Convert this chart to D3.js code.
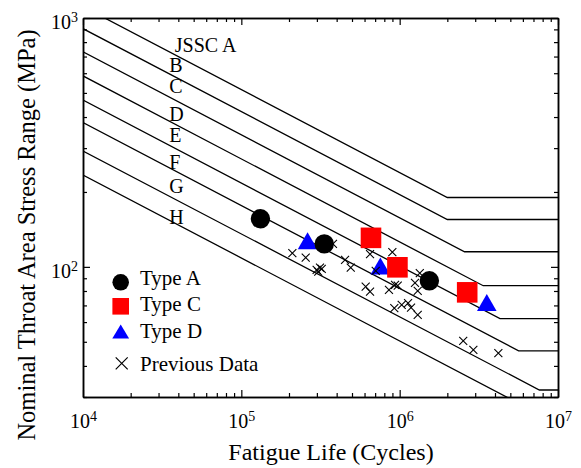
<!DOCTYPE html>
<html>
<head>
<meta charset="utf-8">
<title>Fatigue Life vs Nominal Throat Area Stress Range</title>
<script src="https://d3js.org/d3.v7.min.js"></script>
<style>
  body { margin: 0; background: #ffffff; }
  svg { font-family: "Liberation Serif", "Times New Roman", serif; }
</style>
</head>
<body>
<script>
// JSSC fatigue design curves: start at N = 1e4, knee, then flat cut-off
var classNames = ["JSSC A", "B", "C", "D", "E", "F", "G", "H"];
var startStress = [1111, 906, 731, 585, 468, 380, 292, 234];
var kneeLife = [2.0e6, 2.0e6, 2.57e6, 3.37e6, 4.30e6, 5.64e6, 7.63e6, 1.05e7];
var cutoffStress = [190, 155, 115, 84, 62, 46, 32, 23];

// test results
var typeALife = [1.32e5, 3.34e5, 1.54e6];
var typeAStress = [156, 123.7, 87.9];
var typeCLife = [6.59e5, 9.68e5, 2.67e6];
var typeCStress = [130.8, 99.6, 79.0];
var typeDLife = [2.62e5, 7.55e5, 3.55e6];
var typeDStress = [127.2, 100.7, 71.9];

// previous data
var prevLife = [2.10e5, 2.55e5, 2.99e5, 3.14e5, 3.06e5, 3.22e5, 3.79e5, 4.52e5, 4.91e5,
  6.50e5, 8.99e5, 7.06e5, 6.10e5, 6.50e5, 8.56e5, 9.35e5, 9.72e5, 1.25e6, 1.30e6, 1.34e6,
  9.25e5, 1.03e6, 1.13e6, 1.18e6, 1.30e6, 2.52e6, 2.92e6, 4.20e6];
var prevStress = [113.5, 109, 97.3, 99.4, 95.7, 98.2, 123.7, 106.7, 99.4,
  112.5, 114.6, 96.3, 83.3, 79.6, 80.8, 84.7, 84.1, 86.2, 80.1, 94.3,
  68.3, 70.4, 71.5, 68.6, 64.1, 50.4, 46.4, 45.0];

var xTicks = [1e4, 1e5, 1e6, 1e7];
var yTicks = [1e2, 1e3];
var legendNames = ["Type A", "Type C", "Type D", "Previous Data"];

var w = 581, h = 468;
var pLeft = 83, pRight = 558, pTop = 18, pBottom = 397;

var x = d3.scaleLog().domain([1e4, 1e7]).range([pLeft, pRight]);
var y = d3.scaleLog().domain([30, 1000]).range([pBottom, pTop]);

var svg = d3.select("body").append("svg")
  .attr("width", w)
  .attr("height", h);

svg.append("clipPath").attr("id", "plot")
  .append("rect")
  .attr("x", pLeft).attr("y", pTop)
  .attr("width", pRight - pLeft).attr("height", pBottom - pTop);

// minor tick positions (2..9 per decade)
function minors(lo, hi) {
  var out = [];
  for (var e = lo; e < hi; e++) {
    for (var k = 2; k <= 9; k++) out.push(k * Math.pow(10, e));
  }
  return out;
}
var xMinor = minors(4, 7);
var yMinor = minors(1, 3).filter(function(v) { return v >= 30; });

// design curves
var lineGen = d3.line()
  .x(function(d) { return x(d[0]); })
  .y(function(d) { return y(d[1]); });

var curves = svg.append("g").attr("clip-path", "url(#plot)");
classNames.forEach(function(name, i) {
  var pts = [[1e4, startStress[i]], [kneeLife[i], cutoffStress[i]], [1e7, cutoffStress[i]]];
  curves.append("path")
    .attr("d", lineGen(pts))
    .attr("fill", "none")
    .attr("stroke", "#000")
    .attr("stroke-width", 1.3);
});

// curve labels
var labelLife = [3.8e4, 3.5e4, 3.5e4, 3.5e4, 3.5e4, 3.5e4, 3.5e4, 3.5e4];
var labelStress = [730, 605, 498, 386, 318, 248, 198, 148];
svg.append("g").selectAll("text")
  .data(classNames)
  .enter()
  .append("text")
  .attr("x", function(d, i) { return x(labelLife[i]); })
  .attr("y", function(d, i) { return y(labelStress[i]); })
  .attr("font-size", "20px")
  .text(function(d) { return d; });

// axes
function supLabels(sel) {
  sel.selectAll(".tick text").each(function(d) {
    var t = d3.select(this);
    t.text(null);
    t.append("tspan").text("10");
    t.append("tspan")
      .attr("dy", "-7")
      .attr("font-size", "14px")
      .text(Math.round(Math.log10(d)));
  });
}

function styleAxis(g) {
  g.selectAll("path.domain").attr("stroke", "#000").attr("stroke-width", 1.5);
  g.selectAll(".tick line").attr("stroke", "#000").attr("stroke-width", 1.2);
}

svg.append("g").attr("transform", "translate(0," + pBottom + ")")
  .call(d3.axisBottom(x).tickValues(xMinor).tickSize(-4).tickSizeOuter(0).tickFormat(""))
  .call(styleAxis);
var gxb = svg.append("g").attr("transform", "translate(0," + pBottom + ")")
  .call(d3.axisBottom(x).tickValues(xTicks).tickSize(-7).tickSizeOuter(0).tickPadding(17))
  .call(styleAxis);
gxb.selectAll(".tick text").attr("font-size", "20px").attr("fill", "#000")
  .attr("font-family", "Liberation Serif");
supLabels(gxb);

svg.append("g").attr("transform", "translate(0," + pTop + ")")
  .call(d3.axisTop(x).tickValues(xMinor).tickSize(-4).tickSizeOuter(0).tickFormat(""))
  .call(styleAxis);
svg.append("g").attr("transform", "translate(0," + pTop + ")")
  .call(d3.axisTop(x).tickValues(xTicks).tickSize(-7).tickSizeOuter(0).tickFormat(""))
  .call(styleAxis);

svg.append("g").attr("transform", "translate(" + pLeft + ",0)")
  .call(d3.axisLeft(y).tickValues(yMinor).tickSize(-4).tickSizeOuter(0).tickFormat(""))
  .call(styleAxis);
var gyl = svg.append("g").attr("transform", "translate(" + pLeft + ",0)")
  .call(d3.axisLeft(y).tickValues(yTicks).tickSize(-7).tickSizeOuter(0).tickPadding(5))
  .call(styleAxis);
gyl.selectAll(".tick text").attr("font-size", "20px").attr("fill", "#000")
  .attr("font-family", "Liberation Serif").attr("dy", "0.52em");
supLabels(gyl);

svg.append("g").attr("transform", "translate(" + pRight + ",0)")
  .call(d3.axisRight(y).tickValues(yMinor).tickSize(-4).tickSizeOuter(0).tickFormat(""))
  .call(styleAxis);
svg.append("g").attr("transform", "translate(" + pRight + ",0)")
  .call(d3.axisRight(y).tickValues(yTicks).tickSize(-7).tickSizeOuter(0).tickFormat(""))
  .call(styleAxis);

// axis titles
svg.append("text")
  .attr("x", 331)
  .attr("y", 460)
  .attr("text-anchor", "middle")
  .attr("font-size", "24px")
  .text("Fatigue Life (Cycles)");

svg.append("text")
  .attr("transform", "translate(35,235) rotate(-90)")
  .attr("text-anchor", "middle")
  .attr("font-size", "24.5px")
  .text("Nominal Throat Area Stress Range (MPa)");

// markers
function triPath(cx, cy, hw, hh) {
  return "M" + cx + "," + (cy - hh) + "L" + (cx + hw) + "," + (cy + hh) + "L" + (cx - hw) + "," + (cy + hh) + "Z";
}
function crossPath(cx, cy, s) {
  return "M" + (cx - s) + "," + (cy - s) + "L" + (cx + s) + "," + (cy + s) +
    "M" + (cx - s) + "," + (cy + s) + "L" + (cx + s) + "," + (cy - s);
}

var marks = svg.append("g");

marks.selectAll("path.typeD")
  .data(typeDLife)
  .enter()
  .append("path")
  .attr("class", "typeD")
  .attr("d", function(d, i) { return triPath(x(d), y(typeDStress[i]), 9.8, 8.5); })
  .attr("fill", "#0000ff");

marks.selectAll("path.prev")
  .data(prevLife)
  .enter()
  .append("path")
  .attr("class", "prev")
  .attr("d", function(d, i) { return crossPath(x(d), y(prevStress[i]), 4); })
  .attr("stroke", "#000")
  .attr("stroke-width", 1.1)
  .attr("fill", "none");

marks.selectAll("circle.typeA")
  .data(typeALife)
  .enter()
  .append("circle")
  .attr("class", "typeA")
  .attr("cx", function(d) { return x(d); })
  .attr("cy", function(d, i) { return y(typeAStress[i]); })
  .attr("r", 9.7)
  .attr("fill", "#000");

marks.selectAll("rect.typeC")
  .data(typeCLife)
  .enter()
  .append("rect")
  .attr("class", "typeC")
  .attr("x", function(d) { return x(d) - 10.3; })
  .attr("y", function(d, i) { return y(typeCStress[i]) - 10.3; })
  .attr("width", 20.6)
  .attr("height", 20.6)
  .attr("fill", "#ff0000");

// legend
var legend = svg.append("g");
var legY = [282.3, 306.3, 331.5, 363.3];
var legTextY = [284.5, 311, 338, 370.5];
var lx = 120.7;

legend.append("circle").attr("cx", lx).attr("cy", legY[0]).attr("r", 8.3).attr("fill", "#000");
legend.append("rect").attr("x", lx - 8.3).attr("y", legY[1] - 8.3)
  .attr("width", 16.6).attr("height", 16.6).attr("fill", "#ff0000");
legend.append("path").attr("d", triPath(lx, legY[2], 8.4, 7)).attr("fill", "#0000ff");
legend.append("path").attr("d", crossPath(lx + 1, legY[3], 6))
  .attr("stroke", "#000").attr("stroke-width", 1.2).attr("fill", "none");

legend.selectAll("text")
  .data(legendNames)
  .enter()
  .append("text")
  .attr("x", 140)
  .attr("y", function(d, i) { return legTextY[i]; })
  .attr("font-size", "21px")
  .text(function(d) { return d; });
</script>
</body>
</html>
